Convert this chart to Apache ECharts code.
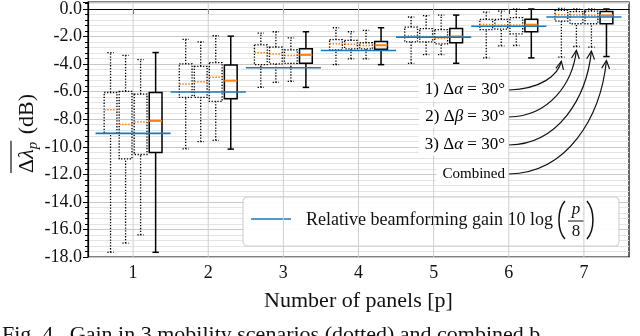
<!DOCTYPE html>
<html>
<head>
<meta charset="utf-8">
<script src="https://cdn.jsdelivr.net/npm/echarts@6/dist/echarts.min.js"></script>
<style>
html, body { margin: 0; padding: 0; background: #fff; }
#main { width: 640px; height: 336px; }
</style>
</head>
<body>
<div id="main"></div>
<script>
// number of panels on the x axis
const panels = [1, 2, 3, 4, 5, 6, 7];
// relative beamforming gain 10 log(p/8), dB
const gainLine = [-9.03, -6.02, -4.26, -3.01, -2.04, -1.25, -0.58];

// each entry: [min, q1, median, q3, max] in dB, one per panel count
const alphaFirst = [
  [-17.66, -9.02, -7.32, -6.06, -3.16],
  [-10.15, -6.42, -5.45, -3.99, -2.21],
  [-5.69, -4.04, -3.18, -2.60, -1.75],
  [-4.04, -2.96, -2.53, -2.23, -1.36],
  [-3.94, -2.38, -1.94, -1.31, -0.58],
  [-3.55, -1.50, -1.12, -0.75, -0.22],
  [-3.50, -0.88, -0.41, -0.09, 0.05]
];
const betaSecond = [
  [-17.00, -10.88, -8.39, -5.98, -3.36],
  [-9.63, -6.42, -5.28, -4.16, -2.38],
  [-5.33, -3.99, -3.26, -2.77, -1.65],
  [-3.62, -2.89, -2.55, -2.28, -1.65],
  [-3.31, -2.38, -1.99, -1.43, -0.48],
  [-2.67, -1.46, -1.17, -0.75, -0.15],
  [-2.72, -1.07, -0.44, -0.19, 0.00]
];
const alphaThird = [
  [-16.40, -10.56, -8.20, -6.18, -3.67],
  [-9.53, -6.71, -4.96, -3.89, -1.94],
  [-5.26, -3.94, -3.38, -2.96, -2.09],
  [-3.62, -2.89, -2.65, -2.45, -1.55],
  [-3.31, -2.53, -2.14, -1.50, -0.44],
  [-2.65, -1.80, -1.17, -0.63, 0.00],
  [-2.77, -1.07, -0.46, -0.15, 0.00]
];
const combined = [
  [-17.66, -10.41, -8.12, -6.06, -3.16],
  [-10.17, -6.52, -5.20, -4.06, -1.97],
  [-5.69, -3.94, -3.33, -2.89, -1.65],
  [-4.04, -2.92, -2.63, -2.36, -1.36],
  [-3.94, -2.45, -1.99, -1.41, -0.44],
  [-3.55, -1.65, -1.14, -0.75, 0.00],
  [-3.45, -1.07, -0.46, -0.19, 0.00]
];

const SERIF = '"Liberation Serif", "DejaVu Serif", serif';
const boxOffsets = [-0.3, -0.1, 0.1, 0.3];
const boxWidth = 0.17;

const chart = echarts.init(document.getElementById('main'), null, { renderer: 'canvas' });

function boxRender(dotted) {
  return function (params, api) {
    const x = api.value(0);
    const w = api.size([boxWidth, 0])[0];
    const cap = w / 2;
    const pMin = api.coord([x, api.value(1)]);
    const pQ1 = api.coord([x, api.value(2)]);
    const pMed = api.coord([x, api.value(3)]);
    const pQ3 = api.coord([x, api.value(4)]);
    const pMax = api.coord([x, api.value(5)]);
    const cx = pMin[0];
    const st = {
      stroke: '#000', fill: null,
      lineWidth: dotted ? 1.3 : 1.5,
      lineDash: dotted ? [1.3, 1.6] : null
    };
    const med = {
      stroke: '#ff7f0e',
      lineWidth: dotted ? 1.5 : 2,
      lineDash: dotted ? [1.5, 1.5] : null
    };
    return {
      type: 'group',
      children: [
        { type: 'line', shape: { x1: cx, y1: pMin[1], x2: cx, y2: pQ1[1] }, style: st },
        { type: 'line', shape: { x1: cx, y1: pQ3[1], x2: cx, y2: pMax[1] }, style: st },
        { type: 'line', shape: { x1: cx - cap / 2, y1: pMin[1], x2: cx + cap / 2, y2: pMin[1] }, style: st },
        { type: 'line', shape: { x1: cx - cap / 2, y1: pMax[1], x2: cx + cap / 2, y2: pMax[1] }, style: st },
        { type: 'rect', shape: { x: cx - w / 2, y: pQ3[1], width: w, height: pQ1[1] - pQ3[1] }, style: st },
        { type: 'line', shape: { x1: cx - w / 2, y1: pMed[1], x2: cx + w / 2, y2: pMed[1] }, style: med }
      ]
    };
  };
}

function boxData(arr, k) {
  return arr.map((v, i) => [panels[i] + boxOffsets[k]].concat(v));
}

const groups = [alphaFirst, betaSecond, alphaThird, combined];

const option = {
  animation: false,
  grid: {
    left: 88, right: 11, top: 2, bottom: 79,
    show: true, borderColor: '#000', borderWidth: 1.2, backgroundColor: 'transparent'
  },
  xAxis: {
    type: 'value', min: 0.4, max: 7.6,
    name: 'Number of panels [p]',
    nameLocation: 'middle', nameGap: 33,
    nameTextStyle: { fontFamily: SERIF, fontSize: 22, color: '#111' },
    axisLine: { lineStyle: { color: '#000', width: 1.2 } },
    axisTick: { customValues: panels, length: 5, lineStyle: { color: '#000' } },
    axisLabel: { customValues: panels, fontFamily: SERIF, fontSize: 18, color: '#111', margin: 7 },
    splitLine: { show: false }
  },
  yAxis: {
    type: 'value', min: -18, max: 0.5, interval: 2,
    axisLine: { show: true, lineStyle: { color: '#000', width: 1.2 } },
    axisTick: { show: true, length: 5, lineStyle: { color: '#000' } },
    minorTick: { show: true, splitNumber: 5, length: 3, lineStyle: { color: '#000' } },
    axisLabel: {
      fontFamily: SERIF, fontSize: 18, color: '#111', margin: 6, showMaxLabel: false,
      formatter: v => v.toFixed(1)
    },
    splitLine: { show: true, lineStyle: { color: '#c8c8c8', width: 1 } },
    minorSplitLine: { show: true, lineStyle: { color: '#e4e4e4', width: 1 } }
  },
  series: [
    {
      type: 'custom', silent: true, z: 1,
      data: panels.map(p => [p]),
      renderItem: (params, api) => {
        const a = api.coord([api.value(0), -18]);
        const b = api.coord([api.value(0), 0.5]);
        return { type: 'line', shape: { x1: a[0], y1: a[1], x2: b[0], y2: b[1] },
          style: { stroke: '#cfcfcf', lineWidth: 1 } };
      }
    }
  ].concat(groups.map((arr, k) => ({
    type: 'custom', silent: true, z: 3,
    data: boxData(arr, k),
    encode: { x: 0, y: [1, 2, 3, 4, 5] },
    renderItem: boxRender(k < 3)
  }))).concat([
    {
      type: 'custom', silent: true, z: 4,
      data: panels.map((p, i) => [p, gainLine[i]]),
      renderItem: (params, api) => {
        const a = api.coord([api.value(0) - 0.5, api.value(1)]);
        const b = api.coord([api.value(0) + 0.5, api.value(1)]);
        return { type: 'line', shape: { x1: a[0], y1: a[1], x2: b[0], y2: b[1] },
          style: { stroke: '#1f77b4', lineWidth: 1.6 } };
      }
    }
  ])
};
chart.setOption(option);

// ---- text pieces and annotations
const ctx = document.createElement('canvas').getContext('2d');
function tw(str, font) { ctx.font = font; return ctx.measureText(str).width; }

const graphics = [];

// y axis label: overline(Δλ_p) (dB), rotated
const fN = '22px ' + SERIF, fI = 'italic 22px ' + SERIF, fS = 'italic 15px ' + SERIF;
const wD = tw('Δ', fN), wL = tw('λ', fI), wP = tw('p', fS);
graphics.push({
  type: 'group', x: 27, y: 173, rotation: Math.PI / 2, z: 50,
  children: [
    { type: 'text', x: 0, y: 0, style: { text: 'Δ', font: fN, fill: '#111', verticalAlign: 'middle' } },
    { type: 'text', x: wD, y: 0, style: { text: 'λ', font: fI, fill: '#111', verticalAlign: 'middle' } },
    { type: 'text', x: wD + wL, y: 6, style: { text: 'p', font: fS, fill: '#111', verticalAlign: 'middle' } },
    { type: 'text', x: wD + wL + wP + 2, y: 0, style: { text: ' (dB)', font: fN, fill: '#111', verticalAlign: 'middle' } },
    { type: 'line', shape: { x1: 0, y1: -16, x2: wD + wL + wP + 1, y2: -16 }, style: { stroke: '#111', lineWidth: 1.2 } }
  ]
});

// legend box
const legText = 'Relative beamforming gain 10 log';
const legFont = '18px ' + SERIF;
const fx = 306 + tw(legText, legFont) + 6;
graphics.push({
  type: 'group', z: 60,
  children: [
    { type: 'rect', shape: { x: 243, y: 197, width: 376, height: 49, r: 4 },
      style: { fill: 'rgba(255,255,255,0.9)', stroke: '#cccccc', lineWidth: 1 } },
    { type: 'line', shape: { x1: 251, y1: 219, x2: 291, y2: 219 }, style: { stroke: '#1f77b4', lineWidth: 1.6 } },
    { type: 'text', x: 306, y: 220, style: { text: legText, font: legFont, fill: '#111', verticalAlign: 'middle' } },
    { type: 'bezierCurve', shape: { x1: fx + 6, y1: 201, x2: fx + 6, y2: 239, cpx1: fx - 2, cpy1: 210, cpx2: fx - 2, cpy2: 230 },
      style: { stroke: '#111', lineWidth: 1.5, fill: null } },
    { type: 'text', x: fx + 17, y: 210, style: { text: 'p', font: 'italic 17px ' + SERIF, fill: '#111', align: 'center', verticalAlign: 'middle' } },
    { type: 'line', shape: { x1: fx + 9, y1: 221, x2: fx + 25, y2: 221 }, style: { stroke: '#111', lineWidth: 1 } },
    { type: 'text', x: fx + 17, y: 232, style: { text: '8', font: '17px ' + SERIF, fill: '#111', align: 'center', verticalAlign: 'middle' } },
    { type: 'bezierCurve', shape: { x1: fx + 28, y1: 201, x2: fx + 28, y2: 239, cpx1: fx + 36, cpy1: 210, cpx2: fx + 36, cpy2: 230 },
      style: { stroke: '#111', lineWidth: 1.5, fill: null } }
  ]
});

// arrow annotations to the p = 7 boxes
const labelY = [90, 117, 145, 174];
const labelRich = [
  '{n|1) Δ}{i|α}{n| = 30°}',
  '{n|2) Δ}{i|β}{n| = 30°}',
  '{n|3) Δ}{i|α}{n| = 30°}',
  '{c|Combined}'
];
groups.forEach((arr, k) => {
  const sx = 509, sy = labelY[k];
  const tip = chart.convertToPixel({ gridIndex: 0 }, [7 + boxOffsets[k], arr[6][0]]);
  const ex = tip[0], ey = tip[1] + 4;
  const c1 = [sx + (ex - sx) * 0.6, sy - 1];
  const c2 = [ex - (ex - sx) * 0.06, ey + (sy - ey) * 0.5];
  const dx = ex - c2[0], dy = ey - c2[1];
  const len = Math.sqrt(dx * dx + dy * dy);
  const ux = dx / len, uy = dy / len;
  const ang = 26 * Math.PI / 180, al = 9;
  const wing = s => [ex - al * (ux * Math.cos(ang) - s * uy * Math.sin(ang)),
                     ey - al * (uy * Math.cos(ang) + s * ux * Math.sin(ang))];
  graphics.push({
    type: 'bezierCurve', z: 55,
    shape: { x1: sx, y1: sy, x2: ex, y2: ey, cpx1: c1[0], cpy1: c1[1], cpx2: c2[0], cpy2: c2[1] },
    style: { stroke: '#111', lineWidth: 1.2, fill: null }
  });
  graphics.push({
    type: 'polyline', z: 55,
    shape: { points: [wing(1), [ex, ey], wing(-1)] },
    style: { stroke: '#111', lineWidth: 1.2, fill: null }
  });
  graphics.push({
    type: 'text', x: sx - 1, y: sy, z: 56,
    style: {
      text: labelRich[k], align: 'right', verticalAlign: 'middle',
      backgroundColor: '#fff', padding: [2, 3, 2, 6],
      rich: {
        n: { fontFamily: SERIF, fontSize: 17, color: '#111' },
        i: { fontFamily: SERIF, fontSize: 17, fontStyle: 'italic', color: '#111' },
        c: { fontFamily: SERIF, fontSize: 15, color: '#111' }
      }
    }
  });
});

// caption, cut by the bottom edge
graphics.push({
  type: 'text', x: 2, y: 324, z: 10,
  style: { text: 'Fig. 4.  Gain in 3 mobility scenarios (dotted) and combined b', font: '22px ' + SERIF, fill: '#111', verticalAlign: 'top' }
});

chart.setOption({ graphic: graphics });
</script>
</body>
</html>
